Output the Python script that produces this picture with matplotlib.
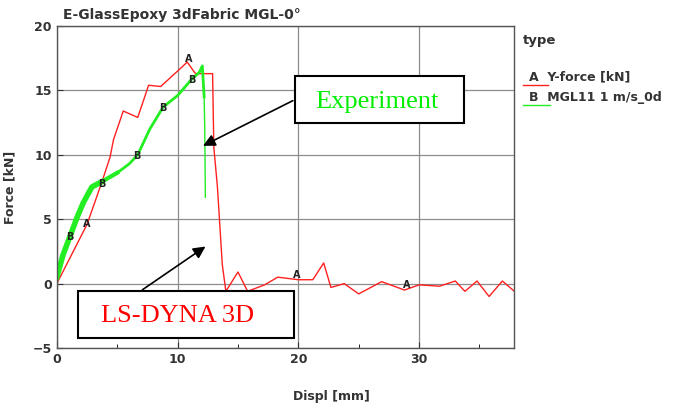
import matplotlib
matplotlib.use("Agg")
from matplotlib import pyplot as plt
from matplotlib.patches import Rectangle

# simulation (A) and experiment (B) force-displacement curves
red_x = [0, 2.5, 3.7, 4.4, 4.7, 5.5, 6.7, 7.6, 8.6, 10.0, 10.8, 11.4, 11.5, 12.9,
         13.0, 13.3, 13.5, 13.7, 14.0, 15.0, 15.8, 17.2, 18.3, 20.0, 21.2, 22.1,
         22.7, 23.8, 25.0, 26.9, 28.8, 30.0, 31.7, 33.0, 33.8, 34.8, 35.8, 36.9, 37.9]
red_y = [0, 4.6, 7.8, 9.8, 11.2, 13.4, 12.9, 15.4, 15.3, 16.5, 17.2, 16.4, 16.3, 16.3,
         10.6, 7.5, 4.5, 1.5, -0.6, 0.9, -0.6, -0.1, 0.5, 0.3, 0.3, 1.6,
         -0.3, 0.0, -0.8, 0.15, -0.5, -0.1, -0.2, 0.2, -0.6, 0.2, -1.0, 0.2, -0.6]

green_x = [0, 0.5, 1.1, 1.7, 2.2, 2.9, 3.7, 5.0, 6.0, 6.7, 7.7, 8.8, 10.0, 11.2,
           11.8, 12.05, 12.2, 12.25, 12.3]
green_y = [0.5, 2.2, 3.7, 5.2, 6.3, 7.5, 7.9, 8.6, 9.3, 10.0, 12.0, 13.7, 14.6, 15.9,
           16.4, 16.9, 14.5, 12.0, 6.7]

a_marks_x = [2.5, 10.9, 19.9, 29.0]
a_marks_y = [4.65, 17.4, 0.65, -0.1]
b_marks_x = [1.1, 3.7, 6.6, 8.8, 11.2]
b_marks_y = [3.6, 7.75, 9.9, 13.6, 15.8]

x_ticks = [0, 10, 20, 30]
y_ticks = [-5, 0, 5, 10, 15, 20]

fig = plt.figure(figsize=(6.85, 4.03), dpi=100)
ax = fig.add_axes([0.083, 0.1365, 0.668, 0.799])

tick_color = "#333333"
ax.plot(red_x, red_y, color="#ff2020", lw=1.0)
# experiment: thick noisy start, medium middle, thin final drop
ax.plot(green_x[:7], green_y[:7], color="#22ee22", lw=4.0)
ax.plot(green_x[6:8], green_y[6:8], color="#22ee22", lw=3.0)
ax.plot(green_x[:17], green_y[:17], color="#22ee22", lw=2.0)
ax.plot(green_x[16:], green_y[16:], color="#22ee22", lw=1.0)

for x, y in zip(a_marks_x, a_marks_y):
    ax.text(x, y, "A", ha="center", va="center", fontsize=7, fontweight="bold", color="#222222")
for x, y in zip(b_marks_x, b_marks_y):
    ax.text(x, y, "B", ha="center", va="center", fontsize=7, fontweight="bold", color="#222222")

ax.set_xlim(0, 37.9)
ax.set_ylim(-5, 20)
ax.set_xticks(x_ticks)
ax.set_yticks(y_ticks)
ax.set_xticks([5, 15, 25, 35], minor=True)
ax.grid(True, color="#8c8c8c", lw=0.9)
ax.tick_params(direction="in", length=4, colors=tick_color, labelsize=9)
ax.tick_params(which="minor", direction="in", length=3)
for lab in ax.get_xticklabels() + ax.get_yticklabels():
    lab.set_fontweight("bold")
for s in ax.spines.values():
    s.set_color("#555555")
    s.set_linewidth(1.0)

ax.set_xlabel("Displ [mm]", fontsize=9, fontweight="bold", color=tick_color)
ax.xaxis.set_label_coords(0.6, -0.13)
ax.set_ylabel("Force [kN]", fontsize=9, fontweight="bold", color=tick_color)
ax.yaxis.set_label_coords(-0.088, 0.5)

fig.text(0.092, 0.962, "E-GlassEpoxy 3dFabric MGL-0°", fontsize=10, fontweight="bold",
         color=tick_color, va="center")

# legend drawn by hand to the right
fig.text(0.764, 0.9, "type", fontsize=9.5, fontweight="bold", color=tick_color, va="center")
fig.text(0.772, 0.808, "A  Y-force [kN]", fontsize=9, fontweight="bold", color=tick_color, va="center")
fig.text(0.772, 0.757, "B  MGL11 1 m/s_0d", fontsize=9, fontweight="bold", color=tick_color, va="center")
fig.add_artist(plt.Line2D([0.764, 0.8], [0.79, 0.79], color="#ff2020", lw=1.0))
fig.add_artist(plt.Line2D([0.764, 0.803], [0.739, 0.739], color="#22ee22", lw=1.0))

# annotation boxes
ax.add_patch(Rectangle((19.75, 12.45), 13.95, 3.7, facecolor="white", edgecolor="black", lw=1.5, zorder=5))
ax.text(26.5, 14.1, "Experiment", ha="center", va="center", fontsize=19,
        family="Liberation Serif", color="#00ee00", zorder=6)
ax.annotate("", xy=(11.9, 10.6), xytext=(19.75, 14.3),
            arrowprops=dict(arrowstyle="-|>", color="black", lw=1.2, mutation_scale=18), zorder=6)

ax.add_patch(Rectangle((1.76, -4.24), 17.9, 3.64, facecolor="white", edgecolor="black", lw=1.5,
                       zorder=5, clip_on=False))
ax.text(9.97, -2.55, "LS-DYNA 3D", ha="center", va="center", fontsize=19,
        family="Liberation Serif", color="#ff0000", zorder=6)
ax.annotate("", xy=(12.5, 3.0), xytext=(6.9, -0.6),
            arrowprops=dict(arrowstyle="-|>", color="black", lw=1.2, mutation_scale=18), zorder=6)

fig.savefig("out.png", dpi=100)
